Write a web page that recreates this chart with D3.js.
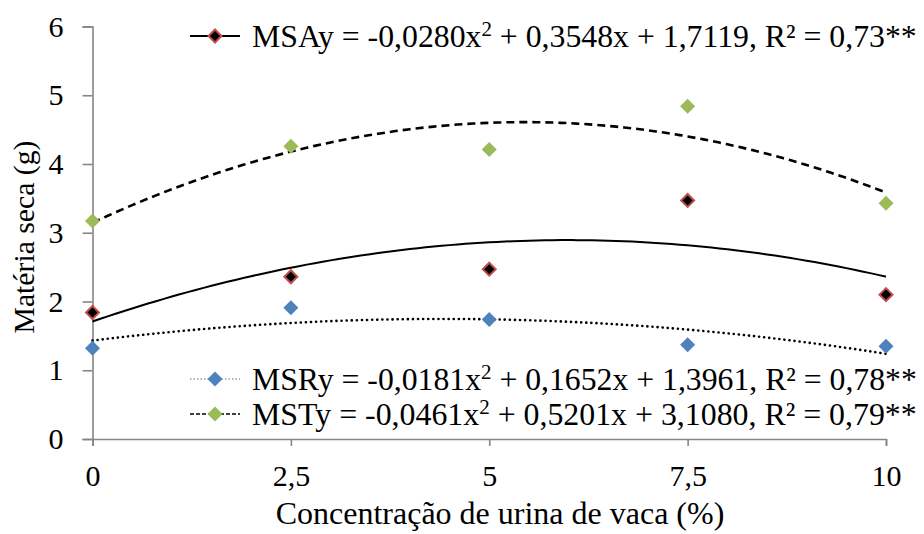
<!DOCTYPE html>
<html>
<head>
<meta charset="utf-8">
<script src="https://cdn.jsdelivr.net/npm/d3@7"></script>
</head>
<body style="margin:0">
<svg id="chart" width="924" height="534" style="font-family: 'Liberation Serif', serif"></svg>
<script>
// data
const doses = [0, 2.5, 5, 7.5, 10];
const msa = [1.84, 2.36, 2.47, 3.47, 2.10];
const msr = [1.32, 1.91, 1.74, 1.37, 1.35];
const mst = [3.17, 4.26, 4.21, 4.84, 3.43];
const xTicks = [0, 2.5, 5, 7.5, 10];
const yTicks = [0, 1, 2, 3, 4, 5, 6];
const legendText = {
  msa: ["MSAy = -0,0280x", " + 0,3548x + 1,7119, R² = 0,73**"],
  msr: ["MSRy = -0,0181x", " + 0,1652x + 1,3961, R² = 0,78**"],
  mst: ["MSTy = -0,0461x", " + 0,5201x + 3,1080, R² = 0,79**"]
};

const FONT = "Liberation Serif";
const axisColor = "#868686";
const svg = d3.select("#chart");

const x = d3.scaleLinear().domain([0, 10]).range([92.5, 886]);
const y = d3.scaleLinear().domain([0, 6]).range([439, 26.5]);

const pt = d3.formatLocale({ decimal: ",", thousands: ".", grouping: [3], currency: ["", ""] });
const fmt = (d) => pt.format("~g")(d);

// quadratic least squares fit, like the spreadsheet trendline
function quadFit(xs, ys) {
  let s = [0, 0, 0, 0, 0], t = [0, 0, 0];
  xs.forEach((xv, i) => {
    for (let k = 0; k < 5; k++) s[k] += Math.pow(xv, k);
    for (let k = 0; k < 3; k++) t[k] += Math.pow(xv, k) * ys[i];
  });
  const A = [[s[0], s[1], s[2], t[0]], [s[1], s[2], s[3], t[1]], [s[2], s[3], s[4], t[2]]];
  for (let i = 0; i < 3; i++) {
    for (let j = i + 1; j < 3; j++) {
      const f = A[j][i] / A[i][i];
      for (let k = i; k < 4; k++) A[j][k] -= f * A[i][k];
    }
  }
  const c = [0, 0, 0];
  for (let i = 2; i >= 0; i--) {
    let v = A[i][3];
    for (let k = i + 1; k < 3; k++) v -= A[i][k] * c[k];
    c[i] = v / A[i][i];
  }
  return (xv) => c[0] + c[1] * xv + c[2] * xv * xv;
}

// shrink or grow a text so it covers the same width as in the picture
function fitWidth(text, target, size, min, max) {
  const w = text.node().getComputedTextLength();
  const k = Math.max(min / size, Math.min(max / size, target / w));
  text.attr("font-size", size * k);
  text.selectAll("tspan.sup").attr("font-size", size * k * 0.66);
  return k;
}

function serif(sel) {
  return sel.attr("font-family", FONT).style("font-family", "'Liberation Serif', serif");
}

function draw() {
  svg.selectAll("*").remove();

  // axes
  const yAxis = svg.append("g")
    .attr("transform", `translate(${x(0)},0)`)
    .call(d3.axisLeft(y).tickValues(yTicks).tickSize(10).tickPadding(19).tickFormat(fmt));
  const xAxis = svg.append("g")
    .attr("transform", `translate(0,${y(0)})`)
    .call(d3.axisBottom(x).tickValues(xTicks).tickSize(7).tickPadding(19).tickFormat(fmt));

  [xAxis, yAxis].forEach((g) => {
    serif(g).attr("font-size", 30);
    g.select(".domain").attr("stroke", axisColor).attr("stroke-width", 1.6);
    g.selectAll(".tick line").attr("stroke", axisColor).attr("stroke-width", 1.6);
    serif(g.selectAll(".tick text"))
      .attr("fill", "#000")
      .attr("font-size", 30);
  });

  const xTitle = serif(svg.append("text"))
    .attr("x", 500)
    .attr("y", 524)
    .attr("text-anchor", "middle")
    .attr("font-size", 28)
    .text("Concentração de urina de vaca (%)");
  fitWidth(xTitle, 466, 28, 24, 32);

  const yTitle = serif(svg.append("text"))
    .attr("transform", "translate(34,237) rotate(-90)")
    .attr("text-anchor", "middle")
    .attr("font-size", 28)
    .text("Matéria seca (g)");
  fitWidth(yTitle, 193, 28, 24, 32);

  // trendlines
  const xs = d3.range(0, 10.001, 0.1);
  const series = [
    { key: "msr", vals: msr, fill: "#4f81bd", stroke: "none", dash: "0.1,5", cap: "round", width: 2.6 },
    { key: "msa", vals: msa, fill: "#000", stroke: "#c0504d", dash: null, cap: "butt", width: 2 },
    { key: "mst", vals: mst, fill: "#9bbb59", stroke: "none", dash: "8,5", cap: "butt", width: 2.6 }
  ];

  const line = d3.line().x((d) => x(d[0])).y((d) => y(d[1])).curve(d3.curveMonotoneX);
  series.forEach((s) => {
    const f = quadFit(doses, s.vals);
    svg.append("path")
      .attr("d", line(xs.map((v) => [v, f(v)])))
      .attr("fill", "none")
      .attr("stroke", "#000")
      .attr("stroke-width", s.width)
      .attr("stroke-linecap", s.cap)
      .attr("stroke-dasharray", s.dash);
  });

  // points
  const diamond = (r) => `M0,${-r}L${r},0L0,${r}L${-r},0Z`;
  series.forEach((s) => {
    svg.append("g").selectAll("path")
      .data(s.vals)
      .join("path")
      .attr("transform", (d, i) => `translate(${x(doses[i])},${y(d)})`)
      .attr("d", s.key === "msa" ? diamond(6.5) : diamond(7.5))
      .attr("fill", s.fill)
      .attr("stroke", s.stroke)
      .attr("stroke-width", s.key === "msa" ? 2 : 0);
  });

  // legend
  function legendRow(s, cy, lineStyle) {
    const g = svg.append("g");
    g.append("line")
      .attr("x1", 190).attr("x2", 240).attr("y1", cy).attr("y2", cy)
      .attr("stroke", lineStyle.color)
      .attr("stroke-width", lineStyle.width)
      .attr("stroke-dasharray", lineStyle.dash);
    g.append("path")
      .attr("transform", `translate(215,${cy})`)
      .attr("d", s.key === "msa" ? diamond(6.5) : diamond(7.5))
      .attr("fill", s.fill)
      .attr("stroke", s.stroke)
      .attr("stroke-width", s.key === "msa" ? 2 : 0);
    const t = serif(g.append("text"))
      .attr("x", 252)
      .attr("y", cy + 11)
      .attr("font-size", 30);
    t.append("tspan").text(legendText[s.key][0]);
    t.append("tspan").attr("class", "sup").attr("dy", -11).attr("font-size", 20).text("2");
    t.append("tspan").attr("dy", 11).text(legendText[s.key][1]);
    fitWidth(t, 665, 30, 26, 34);
  }
  legendRow(series[1], 36, { color: "#000", width: 2, dash: null });
  legendRow(series[0], 379, { color: "#9a9a9a", width: 1.5, dash: "1.5,2" });
  legendRow(series[2], 414, { color: "#000", width: 1.5, dash: "4,2" });
}

draw();
// draw again once the serif face is surely loaded
if (document.fonts && document.fonts.load) {
  document.fonts.load('30px "Liberation Serif"').then(draw, () => {});
}
setTimeout(draw, 200);
</script>
</body>
</html>
